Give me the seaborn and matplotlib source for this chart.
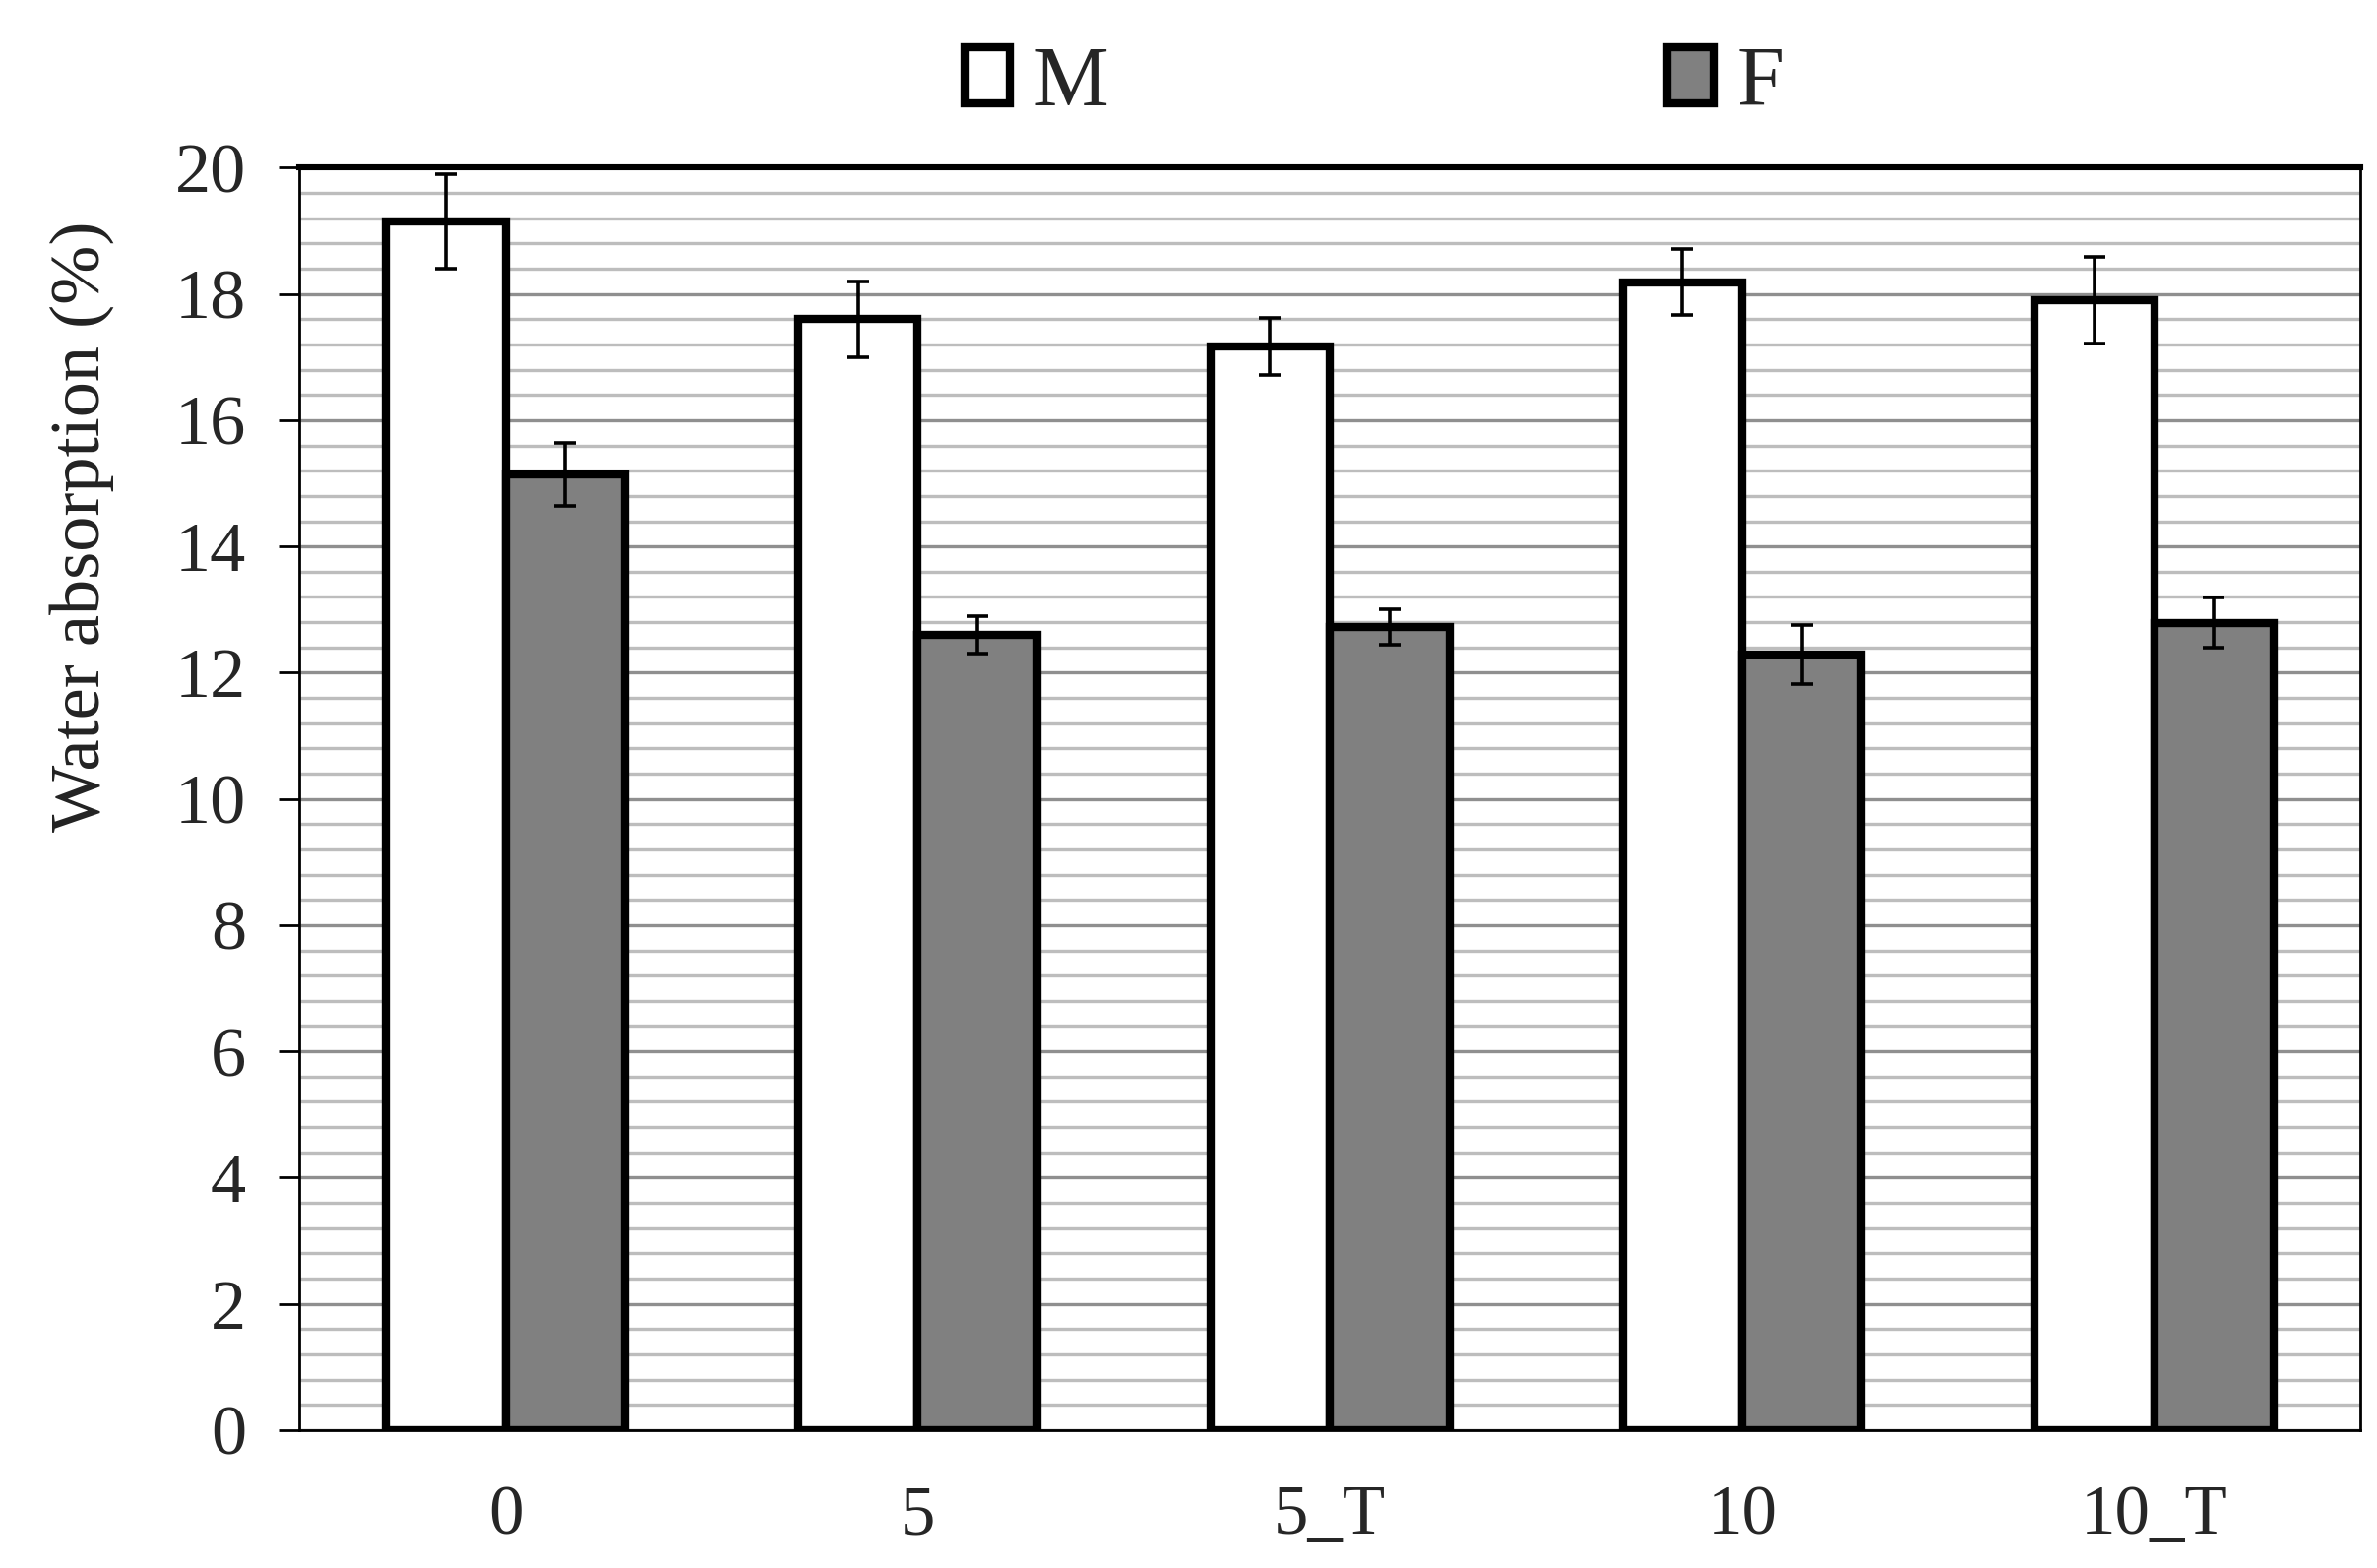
import pandas as pd
import seaborn as sns
import matplotlib.pyplot as plt
from matplotlib.ticker import MultipleLocator, FixedLocator, NullFormatter


# ============================
# Data
# ============================

groups = ["0", "5", "5_T", "10", "10_T"]

m_mean = [19.15, 17.60, 17.17, 18.19, 17.90]
m_err = [0.75, 0.60, 0.45, 0.53, 0.68]

f_mean = [15.14, 12.60, 12.72, 12.29, 12.79]
f_err = [0.50, 0.30, 0.28, 0.47, 0.40]

series = ["M", "F"]

df = pd.DataFrame({
    "group": groups * 2,
    "value": m_mean + f_mean,
    "err": m_err + f_err,
    "series": ["M"] * len(groups) + ["F"] * len(groups),
})


# ============================
# Figure
# ============================

sns.set_style("white")
plt.rcParams["font.family"] = "serif"
plt.rcParams["font.serif"] = ["Liberation Serif", "Times New Roman", "DejaVu Serif"]

fig = plt.figure(figsize=(12.075, 7.965), dpi=200)
ax = fig.add_axes([0.126, 0.088, 0.867, 0.805])

sns.barplot(
    data=df,
    x="group",
    y="value",
    hue="series",
    order=groups,
    hue_order=series,
    palette={"M": "white", "F": "#808080"},
    edgecolor="black",
    linewidth=3.0,
    width=0.58,
    errorbar=None,
    legend=True,
    ax=ax,
)

# error bars at the bar centres
for cont, name in zip(ax.containers, series):
    sub = df[df["series"] == name].set_index("group").loc[groups]
    xs = [b.get_x() + b.get_width() / 2 for b in cont]
    ax.errorbar(
        xs, sub["value"], yerr=sub["err"],
        fmt="none", ecolor="black", elinewidth=1.3,
        capsize=4, capthick=1.3, zorder=5
    )

ax.set_xlim(-0.5, len(groups) - 0.5)
ax.set_ylim(0, 20)

ax.yaxis.set_major_locator(MultipleLocator(2))
ax.yaxis.set_minor_locator(MultipleLocator(0.4))
ax.grid(axis="y", which="major", color="#8f8f8f", linewidth=1.2)
ax.grid(axis="y", which="minor", color="#bdbdbd", linewidth=1.2)
ax.grid(axis="x", visible=False)
ax.set_axisbelow(True)

# category separators as x ticks
ax.xaxis.set_minor_locator(FixedLocator([i - 0.5 for i in range(len(groups) + 1)]))
ax.xaxis.set_minor_formatter(NullFormatter())
ax.tick_params(axis="x", which="major", length=0, pad=20, labelsize=25.5)
ax.tick_params(axis="x", which="minor", length=7, width=1.0, color="black", direction="out")
ax.tick_params(axis="y", which="major", length=7.5, width=1.0, color="black",
               direction="out", pad=12, labelsize=26, left=True)
ax.tick_params(axis="y", which="minor", length=0)

for side in ["left", "bottom", "right"]:
    ax.spines[side].set_color("black")
    ax.spines[side].set_linewidth(1.0)
ax.spines["top"].set_color("black")
ax.spines["top"].set_linewidth(2.2)

ax.set_xlabel("")
ax.set_ylabel("Water absorption (%)", fontsize=26, color="#222222")
ax.yaxis.set_label_coords(-0.09, 0.716)

# legend across the top
handles, labels = ax.get_legend_handles_labels()
ax.get_legend().remove()
fig.legend(
    handles, labels,
    loc="center",
    bbox_to_anchor=(0.578, 0.946),
    ncol=2,
    frameon=False,
    fontsize=31,
    handlelength=0.54,
    handleheight=0.65,
    handletextpad=0.27,
    columnspacing=6.6,
)

fig.savefig("out.png", dpi=200)
